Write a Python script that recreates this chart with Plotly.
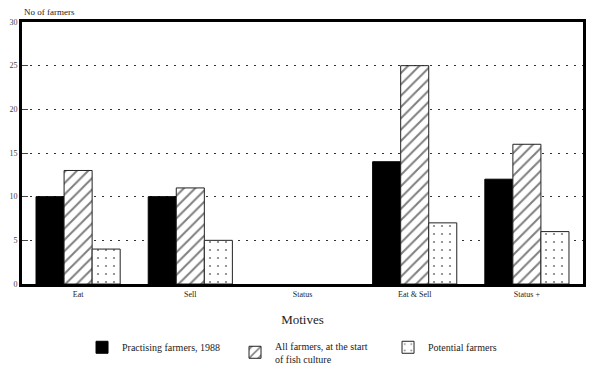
import plotly.graph_objects as go

categories = ["Eat", "Sell", "Status", "Eat & Sell", "Status +"]
practising_1988 = [10, 10, 0, 14, 12]
all_at_start = [13, 11, 0, 25, 16]
potential = [4, 5, 0, 7, 6]
y_ticks = [0, 5, 10, 15, 20, 25, 30]

FONT = "Liberation Serif, Times New Roman, serif"


def outline(values):
    return [0 if v == 0 else 1 for v in values]


fig = go.Figure()
fig.add_trace(go.Bar(
    x=categories, y=practising_1988, name="Practising farmers, 1988",
    marker=dict(color="black", line=dict(color="black", width=outline(practising_1988))),
))
fig.add_trace(go.Bar(
    x=categories, y=all_at_start, name="All farmers, at the start<br>of fish culture",
    marker=dict(color="white", line=dict(color="#222", width=outline(all_at_start)),
                pattern=dict(shape="/", fgcolor="black", bgcolor="white",
                             size=8, solidity=0.25)),
))
fig.add_trace(go.Bar(
    x=categories, y=potential, name="Potential farmers",
    marker=dict(color="white", line=dict(color="#222", width=outline(potential)),
                pattern=dict(shape=".", fgcolor="black", bgcolor="white",
                             size=8, solidity=0.06)),
))

fig.update_layout(
    width=600, height=384,
    margin=dict(l=22, r=17, t=22, b=100),
    paper_bgcolor="white", plot_bgcolor="white",
    barmode="group", bargap=0.25, bargroupgap=0,
    font=dict(family=FONT, color="#222", size=9),
    showlegend=True,
    legend=dict(orientation="h", x=0.107, y=-0.335, xanchor="left", yanchor="bottom",
                font=dict(family=FONT, size=10), traceorder="normal",
                itemwidth=30, entrywidth=108, entrywidthmode="pixels"),
    annotations=[dict(text="No of farmers", xref="paper", yref="paper",
                      x=0, y=1, xanchor="left", yanchor="bottom", yshift=3,
                      showarrow=False, font=dict(family=FONT, size=9, color="#222"))],
)
fig.update_xaxes(
    showline=True, linewidth=3, linecolor="black", mirror=True,
    ticks="", showgrid=False, automargin=False,
    tickfont=dict(family=FONT, size=8),
    title=dict(text="Motives", font=dict(family=FONT, size=13), standoff=18),
)
fig.update_yaxes(
    range=[0, 30], tickvals=y_ticks, automargin=False,
    showline=True, linewidth=3, linecolor="black", mirror=True,
    ticks="inside", ticklen=6, tickcolor="#444", tickwidth=1,
    showgrid=True, gridcolor="#333", griddash="2px,6px", gridwidth=1,
    tickfont=dict(family=FONT, size=8, color="#444"),
    zeroline=False,
)

fig.write_html("out.html", config={"displayModeBar": False},
               post_script="document.body.style.margin='0';")
